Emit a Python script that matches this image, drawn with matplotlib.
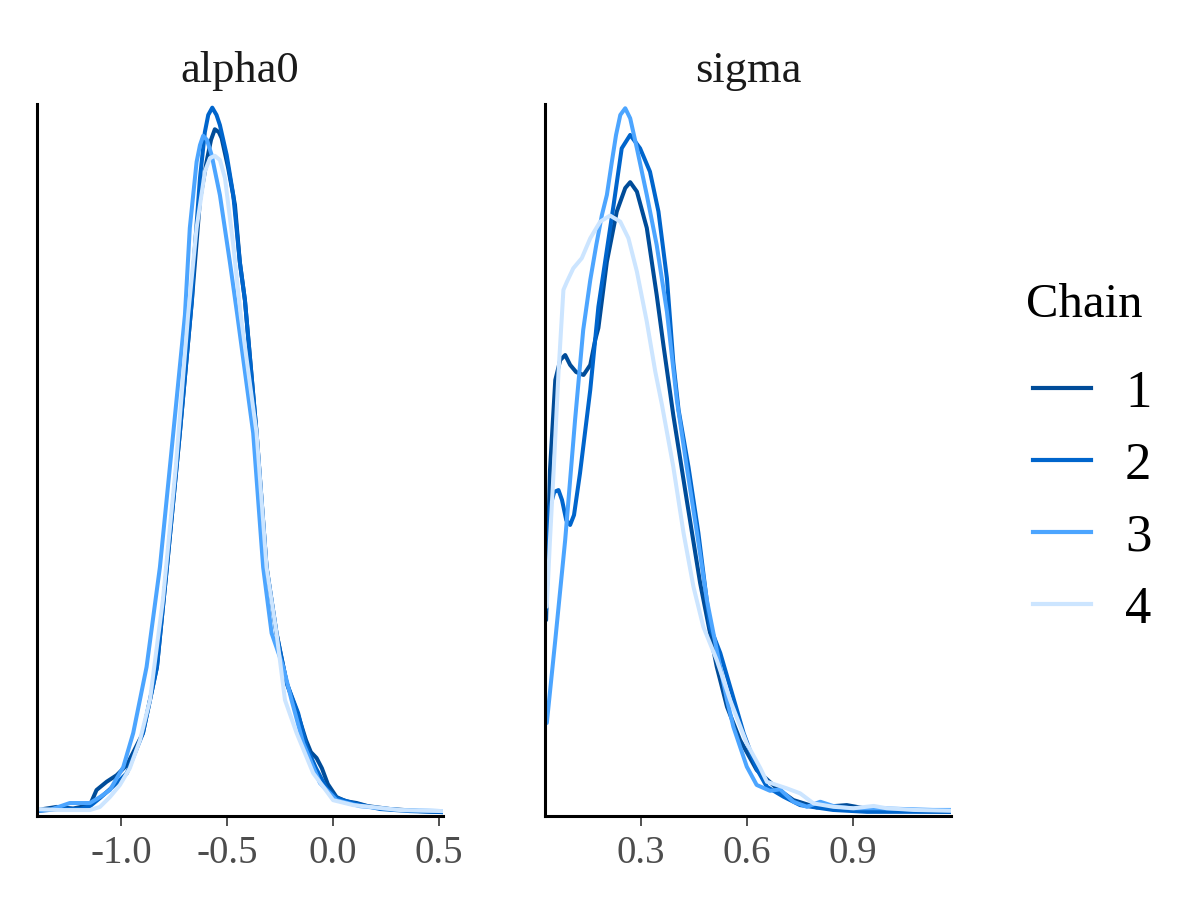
import matplotlib.pyplot as plt
from matplotlib.lines import Line2D

plt.rcParams['font.family'] = ['Liberation Serif', 'DejaVu Serif']
plt.rcParams['axes.unicode_minus'] = False

chains = ['1', '2', '3', '4']
chain_colors = ['#004c99', '#0065cc', '#4ca5ff', '#cce5ff']

# ---- alpha0: density per chain ----
alpha0_x1 = [-1.396, -1.303, -1.225, -1.146, -1.115, -1.067, -1.020, -0.972, -0.896, -0.830,
             -0.783, -0.722, -0.665, -0.627, -0.596, -0.575, -0.557, -0.538, -0.525, -0.494,
             -0.462, -0.439, -0.415, -0.360, -0.313, -0.266, -0.218, -0.164, -0.127, -0.104,
             -0.077, -0.052, -0.024, 0.017, 0.061, 0.112, 0.165, 0.269, 0.410, 0.519]
alpha0_y1 = [0.008, 0.020, 0.014, 0.027, 0.085, 0.117, 0.142, 0.181, 0.304, 0.558,
             0.942, 1.458, 1.969, 2.354, 2.501, 2.585, 2.626, 2.615, 2.592, 2.477,
             2.335, 2.115, 1.969, 1.458, 0.942, 0.688, 0.496, 0.373, 0.277, 0.231,
             0.208, 0.169, 0.108, 0.058, 0.042, 0.035, 0.023, 0.012, 0.004, 0.0]

alpha0_x2 = [-1.396, -1.288, -1.193, -1.146, -1.099, -1.052, -1.005, -0.972, -0.896, -0.830,
             -0.783, -0.722, -0.665, -0.656, -0.627, -0.604, -0.588, -0.569, -0.549, -0.533,
             -0.501, -0.470, -0.439, -0.415, -0.360, -0.313, -0.266, -0.218, -0.164, -0.124,
             -0.080, -0.030, 0.017, 0.094, 0.222, 0.363, 0.519]
alpha0_y2 = [0.004, 0.012, 0.012, 0.023, 0.054, 0.088, 0.123, 0.150, 0.304, 0.558,
             0.942, 1.458, 1.969, 2.115, 2.438, 2.615, 2.681, 2.709, 2.681, 2.642,
             2.527, 2.373, 2.115, 1.969, 1.458, 0.942, 0.688, 0.496, 0.381, 0.250,
             0.169, 0.092, 0.054, 0.035, 0.012, 0.004, 0.0]

alpha0_x3 = [-1.396, -1.330, -1.241, -1.146, -1.099, -1.052, -0.989, -0.942, -0.879, -0.816,
             -0.753, -0.698, -0.675, -0.659, -0.643, -0.627, -0.612, -0.594, -0.572, -0.533,
             -0.486, -0.451, -0.376, -0.329, -0.289, -0.234, -0.195, -0.140, -0.061, 0.017,
             0.127, 0.316, 0.519]
alpha0_y3 = [0.006, 0.010, 0.035, 0.035, 0.058, 0.085, 0.173, 0.304, 0.558, 0.942,
             1.458, 1.912, 2.246, 2.373, 2.500, 2.565, 2.601, 2.585, 2.527, 2.373,
             2.115, 1.912, 1.458, 0.942, 0.688, 0.558, 0.431, 0.265, 0.112, 0.046,
             0.023, 0.008, 0.004]

alpha0_x4 = [-1.396, -1.288, -1.146, -1.099, -1.052, -1.005, -0.958, -0.910, -0.863, -0.802,
             -0.741, -0.683, -0.643, -0.604, -0.580, -0.557, -0.533, -0.509, -0.470, -0.435,
             -0.360, -0.313, -0.266, -0.226, -0.171, -0.093, 0.001, 0.096, 0.316, 0.519]
alpha0_y4 = [0.012, 0.008, 0.008, 0.020, 0.058, 0.104, 0.169, 0.277, 0.431, 0.815,
             1.327, 1.912, 2.246, 2.463, 2.515, 2.524, 2.508, 2.438, 2.181, 1.912,
             1.458, 0.942, 0.688, 0.431, 0.304, 0.150, 0.046, 0.027, 0.008, 0.004]

# ---- sigma: density per chain ----
sigma_x1 = [0.031, 0.042, 0.057, 0.071, 0.085, 0.099, 0.116, 0.137, 0.156, 0.170,
            0.179, 0.203, 0.231, 0.255, 0.269, 0.288, 0.316, 0.344, 0.363, 0.391,
            0.429, 0.467, 0.495, 0.514, 0.543, 0.580, 0.627, 0.684, 0.731, 0.797,
            0.882, 0.958, 1.061, 1.177]
sigma_y1 = [0.914, 1.629, 2.057, 2.152, 2.176, 2.129, 2.095, 2.081, 2.129, 2.248,
            2.305, 2.620, 2.859, 2.971, 2.999, 2.954, 2.781, 2.462, 2.224, 1.890,
            1.486, 1.090, 0.852, 0.692, 0.501, 0.343, 0.200, 0.113, 0.057, 0.022,
            0.033, 0.010, 0.005, 0.001]

sigma_x2 = [0.031, 0.042, 0.054, 0.066, 0.076, 0.088, 0.099, 0.110, 0.127, 0.156,
            0.179, 0.203, 0.222, 0.245, 0.269, 0.297, 0.325, 0.349, 0.373, 0.391,
            0.406, 0.434, 0.462, 0.495, 0.524, 0.557, 0.590, 0.627, 0.656, 0.703,
            0.750, 0.843, 0.939, 1.177]
sigma_y2 = [0.962, 1.452, 1.524, 1.533, 1.486, 1.390, 1.367, 1.414, 1.614, 2.010,
            2.406, 2.676, 2.890, 3.160, 3.224, 3.160, 3.049, 2.859, 2.541, 2.143,
            1.914, 1.643, 1.329, 0.882, 0.757, 0.567, 0.376, 0.206, 0.120, 0.073,
            0.033, 0.010, 0.001, 0.001]

sigma_x3 = [0.033, 0.057, 0.085, 0.113, 0.136, 0.156, 0.173, 0.189, 0.203, 0.217,
            0.229, 0.241, 0.255, 0.269, 0.288, 0.316, 0.344, 0.373, 0.401, 0.429,
            0.458, 0.486, 0.514, 0.543, 0.561, 0.599, 0.627, 0.665, 0.693, 0.731,
            0.769, 0.807, 0.843, 0.892, 0.976, 1.126, 1.177]
sigma_y3 = [0.424, 0.819, 1.295, 1.867, 2.295, 2.533, 2.700, 2.843, 2.938, 3.095,
            3.224, 3.319, 3.351, 3.303, 3.160, 2.938, 2.700, 2.382, 1.962, 1.644,
            1.329, 1.010, 0.771, 0.533, 0.406, 0.216, 0.129, 0.101, 0.108, 0.049,
            0.025, 0.049, 0.029, 0.018, 0.018, 0.010, 0.010]

sigma_x4 = [0.033, 0.042, 0.052, 0.066, 0.080, 0.090, 0.108, 0.132, 0.156, 0.184,
            0.212, 0.241, 0.264, 0.288, 0.316, 0.340, 0.359, 0.391, 0.420, 0.448,
            0.476, 0.514, 0.552, 0.599, 0.637, 0.656, 0.712, 0.750, 0.788, 0.844,
            0.901, 0.958, 0.995, 1.071, 1.177]
sigma_y4 = [0.978, 1.295, 1.614, 2.090, 2.486, 2.525, 2.589, 2.637, 2.732, 2.811,
            2.840, 2.811, 2.732, 2.573, 2.335, 2.097, 1.938, 1.644, 1.329, 1.073,
            0.882, 0.724, 0.533, 0.327, 0.210, 0.144, 0.113, 0.089, 0.041, 0.025,
            0.018, 0.029, 0.018, 0.010, 0.006]

panels = [
    ('alpha0', [(alpha0_x1, alpha0_y1), (alpha0_x2, alpha0_y2), (alpha0_x3, alpha0_y3), (alpha0_x4, alpha0_y4)],
     (-1.396, 0.519), (-0.015, 2.723), [-1.0, -0.5, 0.0, 0.5], ['-1.0', '-0.5', '0.0', '0.5']),
    ('sigma', [(sigma_x1, sigma_y1), (sigma_x2, sigma_y2), (sigma_x3, sigma_y3), (sigma_x4, sigma_y4)],
     (0.028, 1.177), (-0.019, 3.371), [0.3, 0.6, 0.9], ['0.3', '0.6', '0.9']),
]

fig = plt.figure(figsize=(12, 9), dpi=100)
lefts = [0.0308, 0.4542]

for left, (name, series, xlim, ylim, ticks, ticklabels) in zip(lefts, panels):
    ax = fig.add_axes([left, 0.0933, 0.3383, 0.7911])
    for (xs, ys), col in zip(series, chain_colors):
        ax.plot(xs, ys, color=col, lw=2.9, solid_joinstyle='round', solid_capstyle='round')
    ax.set_xlim(*xlim)
    ax.set_ylim(*ylim)
    ax.set_xticks(ticks)
    ax.set_xticklabels(ticklabels)
    ax.set_yticks([])
    for s in ['top', 'right']:
        ax.spines[s].set_visible(False)
    for s in ['left', 'bottom']:
        ax.spines[s].set_linewidth(2.2)
        ax.spines[s].set_color('black')
    ax.tick_params(axis='x', length=7, width=1.2, color='#333333',
                   labelsize=28, labelcolor='#4d4d4d', pad=7)
    ax.set_title(name, fontsize=32, pad=16, color='#1a1a1a')

# legend: title as its own text, entries below it
fig.text(0.855, 1 - 305 / 900, 'Chain', fontsize=35, va='center', ha='left')
handles = [Line2D([], [], color=c, lw=3.0) for c in chain_colors]
fig.legend(handles, chains, loc='upper left',
           bbox_to_anchor=(0.861, 0.589), frameon=False, fontsize=38,
           handlelength=1.1, handletextpad=0.64,
           labelspacing=0.455, borderpad=0, borderaxespad=0)

fig.savefig('out.png', dpi=100)
